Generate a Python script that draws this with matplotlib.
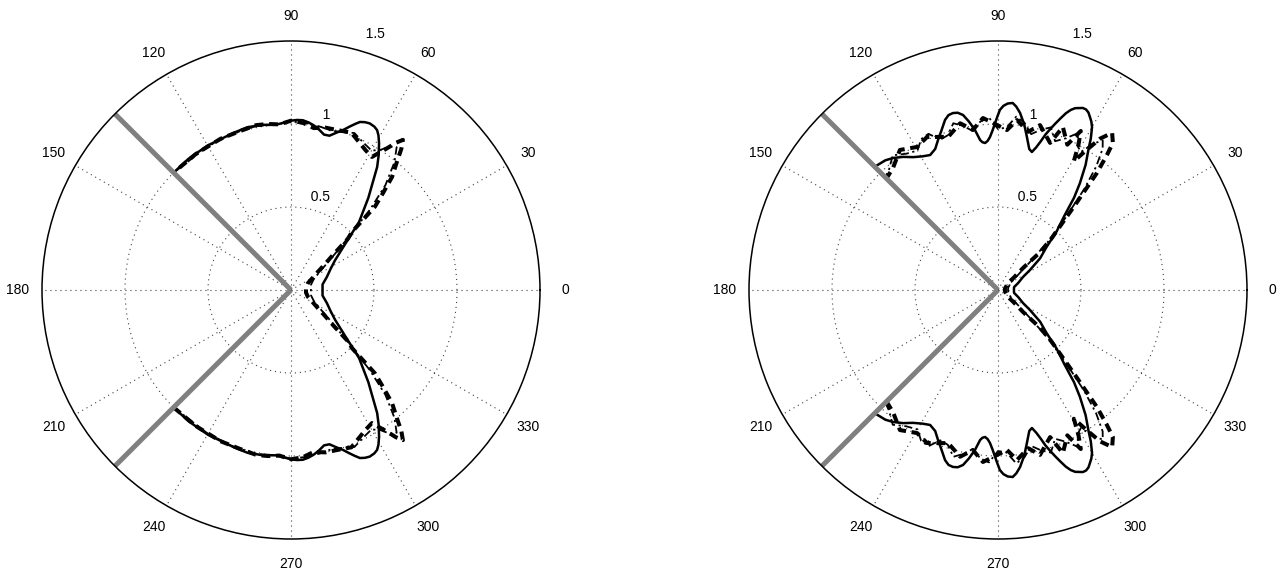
import numpy as np
import matplotlib
matplotlib.use("Agg")
import matplotlib.pyplot as plt

plt.rcParams['font.family'] = ['Liberation Sans', 'DejaVu Sans']

# Patterns are symmetric about 0 deg: values given for 0..135 deg, mirrored below
# --- left panel ---
theta_l_solid = [0, 10, 20, 28, 34, 40, 45, 50, 55, 57, 59, 60.5, 61.7, 63, 64.7, 66.2,
                 67.7, 69, 70.3, 72, 74, 76, 78, 80, 82, 84, 86, 88, 90, 95, 100, 105,
                 110, 120, 128, 135]
r_l_solid = [0.19, 0.193, 0.23, 0.27, 0.32, 0.42, 0.58, 0.725, 0.905, 0.97, 1.03, 1.07,
             1.094, 1.105, 1.11, 1.105, 1.094, 1.07, 1.045, 1.013, 0.985, 0.958, 0.957,
             0.98, 1.0, 1.015, 1.025, 1.025, 1.02, 1.0, 1.01, 1.015, 1.008, 1.005, 1.003,
             1.0]

theta_l_dash = [0, 10, 22, 30, 34, 37, 40, 42, 43.6, 44.8, 46.5, 48.2, 50.4, 52, 53.3,
                54.5, 55.9, 58.7, 62, 65, 69, 74, 78, 82, 86, 90, 94, 98, 102, 108, 115,
                125, 135]
r_l_dash = [0.09, 0.092, 0.11, 0.155, 0.195, 0.25, 0.335, 0.46, 0.507, 0.713, 0.805,
            0.913, 1.0, 1.08, 1.128, 1.09, 1.03, 0.938, 0.955, 0.978, 1.015, 1.003, 1.0,
            0.985, 1.01, 1.02, 1.0, 1.01, 1.015, 1.005, 1.005, 1.0, 1.0]

theta_l_dd = [0, 15, 25, 32, 37, 41, 43.5, 45.5, 48, 51, 53.5, 55.5, 57.5, 60, 64, 68,
              72, 76, 80, 85, 90, 96, 102, 110, 120, 135]
r_l_dd = [0.12, 0.125, 0.15, 0.2, 0.28, 0.4, 0.52, 0.68, 0.85, 0.99, 1.07, 1.05, 1.0,
          0.97, 0.99, 1.02, 1.0, 0.99, 1.0, 1.01, 1.015, 1.0, 1.01, 1.005, 1.0, 1.0]

# --- right panel ---
theta_r_solid = [0, 10, 19, 27.5, 32, 37, 41.5, 45, 48.2, 50.5, 52.5, 55, 57.3, 58.5,
                 60, 61, 62, 63, 64, 65, 66, 67, 68, 69, 70, 71, 72, 73, 74, 75, 76.2,
                 77.5, 79.3, 81, 82.9, 84.3, 85.5, 87, 88.3, 89.4, 90.2, 91, 92, 93, 94,
                 95, 96, 96.8, 98.2, 99.8, 101.3, 102.8, 104.3, 105.8, 107.3, 109.5,
                 111.8, 114, 116.7, 119.5, 122.6, 125.5, 128.5, 131, 135]
r_r_solid = [0.096, 0.098, 0.128, 0.17, 0.227, 0.318, 0.39, 0.5, 0.6, 0.72, 0.81, 0.92,
             1.01, 1.07, 1.133, 1.16, 1.18, 1.2, 1.21, 1.21, 1.2, 1.19, 1.17, 1.14, 1.1,
             1.06, 1.02, 0.98, 0.93, 0.89, 0.856, 0.87, 0.938, 1.01, 1.075, 1.11, 1.13,
             1.125, 1.11, 1.085, 1.045, 1.006, 0.96, 0.923, 0.9, 0.889, 0.895, 0.91,
             0.974, 1.03, 1.075, 1.095, 1.1, 1.095, 1.073, 1.02, 0.973, 0.93, 0.91,
             0.925, 0.95, 0.985, 1.016, 1.035, 1.05]

theta_r_dash = [0, 15, 35, 38, 41.3, 41.9, 44, 46, 47.8, 49.8, 51.1, 52, 54, 56, 58,
                59.5, 61, 62.5, 64.5, 68.3, 70.5, 75.7, 79.2, 83.6, 86.8, 91, 95, 98.9,
                102.8, 108, 114.9, 119.5, 125, 130.7, 135]
r_r_dash = [0.04, 0.045, 0.074, 0.12, 0.2, 0.34, 0.45, 0.55, 0.69, 0.923, 1.045, 1.124,
            1.17, 1.1, 0.98, 0.9, 1.0, 1.08, 0.97, 1.057, 0.94, 1.025, 0.97, 1.03, 0.965,
            1.0, 1.04, 0.976, 1.03, 0.97, 1.016, 0.99, 1.03, 0.97, 0.95]

theta_r_dd = [0, 15, 30, 37, 41, 44, 47, 49.5, 51.5, 53.5, 55, 57, 59, 61, 63, 66, 69,
              72, 75, 78, 81, 84, 87, 90, 93, 96, 99, 102, 105, 108, 111, 114, 117, 120,
              124, 128, 132, 135]
r_r_dd = [0.06, 0.065, 0.09, 0.15, 0.25, 0.42, 0.6, 0.8, 0.95, 1.06, 1.1, 1.05, 0.97,
          0.99, 1.06, 1.0, 0.96, 1.03, 1.0, 0.96, 1.02, 1.05, 0.98, 0.97, 1.04, 1.02,
          0.97, 1.01, 1.04, 0.98, 0.97, 1.03, 1.02, 0.97, 0.99, 1.03, 0.98, 0.96]

angle_ticks = list(range(0, 360, 30))
ring_values = [0.5, 1.0, 1.5]
ring_labels = ['0.5', '1', '1.5']
# where each ring label sits: (angle in deg, radius)
ring_label_pos = [(82, 0.525), (82, 1.025), (75, 1.555)]
wedge_angles = [135, 225]
rmax = 1.5


def mirror(theta_deg, r):
    th = np.asarray(theta_deg, float)
    rr = np.asarray(r, float)
    th_full = np.concatenate([-th[::-1], th[1:]])
    r_full = np.concatenate([rr[::-1], rr[1:]])
    return np.deg2rad(th_full), r_full


def draw_panel(ax, curves):
    ax.set_ylim(0, rmax)
    ax.set_thetagrids(angle_ticks, labels=[''] * len(angle_ticks))
    ax.set_rgrids(ring_values[:-1], labels=[''] * (len(ring_values) - 1))
    ax.grid(True, color='0.25', linestyle=(0, (1, 3.5)), linewidth=0.8)
    ax.spines['polar'].set_linewidth(1.1)
    ax.spines['polar'].set_color('black')

    (ts, rs), (td, rd), (tdd, rdd) = curves
    ax.plot(*mirror(tdd, rdd), color='black', lw=1.3, dashes=(4.5, 2.0, 1.2, 2.0))
    ax.plot(*mirror(td, rd), color='black', lw=2.9, dashes=(2.2, 1.4))
    ax.plot(*mirror(ts, rs), color='black', lw=1.8, solid_joinstyle='round')

    for a in wedge_angles:
        ax.plot([np.deg2rad(a)] * 2, [0, rmax], color='0.5', lw=3.6,
                solid_capstyle='butt')

    for a in angle_ticks:
        ax.text(np.deg2rad(a), 1.1 * rmax, str(a), ha='center', va='center', fontsize=10)
    for (ang, rad), lab in zip(ring_label_pos, ring_labels):
        ax.text(np.deg2rad(ang), rad, '  ' + lab, ha='left', va='bottom', fontsize=10)


fig = plt.figure(figsize=(12.84, 5.73), dpi=100)
ax1 = fig.add_axes([42 / 1284, 34 / 573, 498 / 1284, 498 / 573], projection='polar')
ax2 = fig.add_axes([749 / 1284, 34 / 573, 498 / 1284, 498 / 573], projection='polar')

draw_panel(ax1, [(theta_l_solid, r_l_solid), (theta_l_dash, r_l_dash),
                 (theta_l_dd, r_l_dd)])
draw_panel(ax2, [(theta_r_solid, r_r_solid), (theta_r_dash, r_r_dash),
                 (theta_r_dd, r_r_dd)])

fig.savefig('out.png', dpi=100)
